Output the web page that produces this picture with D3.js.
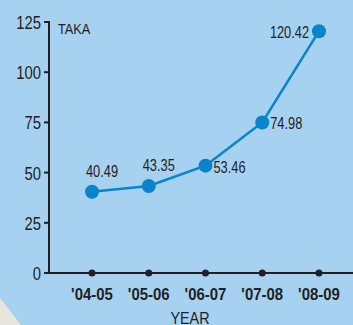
<!DOCTYPE html>
<html><head><meta charset="utf-8">
<script src="https://cdn.jsdelivr.net/npm/d3@7"></script>
<style>
html,body{margin:0;padding:0;background:#a6d1f1;}
svg{display:block;}
text{font-family:"Liberation Sans",Arial,sans-serif;fill:#231f20;}
</style></head>
<body><svg id="c" width="353" height="325"></svg>
<script>
const categories = ["'04-05","'05-06","'06-07","'07-08","'08-09"];
const values = [40.49, 43.35, 53.46, 74.98, 120.42];
const yTicks = [0, 25, 50, 75, 100, 125];
const labelPos = ["above","above","right","right","left"];

const svg = d3.select("#c");
svg.append("rect").attr("width",353).attr("height",325).attr("fill","#a6d1f1");
svg.append("polygon").attr("points","0,298 21,325 0,325").attr("fill","#e9e5dd");

const x = d3.scalePoint().domain(categories).range([92, 319]);
const y = d3.scaleLinear().domain([0,125]).range([273, 22]);

function txt(px, py, s, size, anchor, sx, weight){
  return svg.append("text")
    .attr("transform",`translate(${px},${py}) scale(${sx},1)`)
    .attr("text-anchor",anchor).attr("font-size",size)
    .attr("font-weight",weight||"normal").text(s);
}

// y axis
const ya = svg.append("g").attr("transform","translate(49,0)");
ya.append("line").attr("y1",y(125)-1).attr("y2",y(0)+1).attr("stroke","#231f20").attr("stroke-width",2);
yTicks.forEach(t=>{
  ya.append("line").attr("x1",-5).attr("x2",0).attr("y1",y(t)).attr("y2",y(t)).attr("stroke","#231f20").attr("stroke-width",2);
  txt(41, y(t)+7, String(t), 19, "end", 0.78);
});
txt(58, 34, "TAKA", 15, "start", 0.85);

// x axis
svg.append("line").attr("x1",48).attr("x2",353).attr("y1",y(0)).attr("y2",y(0)).attr("stroke","#231f20").attr("stroke-width",2);
categories.forEach(c=>{
  svg.append("circle").attr("cx",x(c)).attr("cy",y(0)).attr("r",3.5).attr("fill","#231f20");
  txt(x(c), 300, c, 17, "middle", 0.88, "bold");
});
txt(190, 324, "YEAR", 16, "middle", 0.9);

// line
const line = d3.line().x((d,i)=>x(categories[i])).y(d=>y(d));
svg.append("path").datum(values).attr("d",line).attr("fill","none").attr("stroke","#0784cc").attr("stroke-width",2.5);
values.forEach((v,i)=>{
  const cx = x(categories[i]), cy = y(v);
  svg.append("circle").attr("cx",cx).attr("cy",cy).attr("r",7).attr("fill","#0784cc");
  const s = v.toFixed(2);
  if(labelPos[i]==="above") txt(cx-6, cy-15, s, 16, "start", 0.8);
  else if(labelPos[i]==="right") txt(cx+8, cy+7, s, 16, "start", 0.8);
  else txt(cx-10, cy+7, s, 16, "end", 0.8);
});
</script></body></html>
